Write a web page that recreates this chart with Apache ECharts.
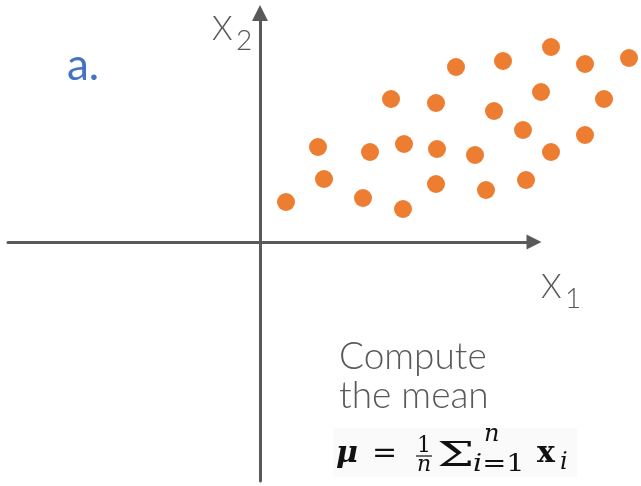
<!DOCTYPE html>
<html>
<head>
<meta charset="utf-8">
<script src="https://cdn.jsdelivr.net/npm/echarts@6/dist/echarts.min.js"></script>
<style>
  html, body { margin: 0; padding: 0; background: #fff; }
  #main { width: 641px; height: 486px; }
</style>
</head>
<body>
<div id="main"></div>
<script>
// point coordinates (X1, X2), origin where the two axes cross
var x1Values = [2.6, 5.8, 6.4, 10.3, 11.0, 13.1, 14.3, 14.4, 17.6, 17.7, 17.6, 19.6, 21.5,
                22.6, 23.4, 24.3, 26.3, 26.6, 28.1, 29.1, 29.1, 32.5, 32.5, 34.4, 36.9];
var x2Values = [4.0, 9.5, 6.3, 4.4, 9.0, 14.3, 3.3, 9.8, 13.9, 9.3, 5.8, 17.5, 8.7,
                5.2, 13.1, 18.1, 11.2, 6.2, 15.0, 19.5, 9.0, 17.8, 10.7, 14.3, 18.4];
var xRange = [-25.2, 27.4];
var yRange = [-23.9, 22.9];

var points = [];
for (var i = 0; i < x1Values.length; i++) {
    points.push([x1Values[i], x2Values[i]]);
}

var axisColor = '#595959';
var textColor = '#595959';
var ink = '#111111';
var lato = 'Lato, "Open Sans", sans-serif';
var serif = '"DejaVu Serif", "Liberation Serif", serif';

function label(x, y, text, size, opts) {
    opts = opts || {};
    return {
        type: 'text',
        x: x,
        y: y,
        scaleX: opts.scaleX || 1,
        style: {
            text: text,
            fontSize: size,
            fontFamily: opts.family || lato,
            fontWeight: opts.weight || 300,
            fontStyle: opts.italic ? 'italic' : 'normal',
            fill: opts.color || textColor,
            align: opts.align || 'left',
            textAlign: opts.align || 'left',
            verticalAlign: 'middle',
            textVerticalAlign: 'middle',
            rich: opts.rich
        }
    };
}

// formula pieces (serif, black)
function math(x, y, text, size, opts) {
    opts = opts || {};
    opts.family = serif;
    opts.color = ink;
    opts.weight = opts.weight || 'normal';
    return label(x, y, text, size, opts);
}

var chart = echarts.init(document.getElementById('main'));
var option = {
    animation: false,
    backgroundColor: '#ffffff',
    grid: { left: 8, right: 107, top: 13, bottom: 5 },
    xAxis: {
        type: 'value',
        min: xRange[0],
        max: xRange[1],
        axisLine: {
            onZero: true,
            symbol: ['none', 'triangle'],
            symbolSize: [15, 15],
            lineStyle: { color: axisColor, width: 3 }
        },
        axisTick: { show: false },
        axisLabel: { show: false },
        splitLine: { show: false }
    },
    yAxis: {
        type: 'value',
        min: yRange[0],
        max: yRange[1],
        axisLine: {
            onZero: true,
            symbol: ['none', 'triangle'],
            symbolSize: [16, 16],
            lineStyle: { color: axisColor, width: 3 }
        },
        axisTick: { show: false },
        axisLabel: { show: false },
        splitLine: { show: false }
    },
    series: [{
        type: 'scatter',
        data: points,
        clip: false,
        symbolSize: 18,
        itemStyle: { color: '#ED7D31', opacity: 1 },
        emphasis: { disabled: true }
    }],
    graphic: [
        // axis names
        label(212, 29, 'X', 33),
        label(236, 41, '2', 28),
        label(541, 287, 'X', 33),
        label(565, 299, '1', 28),
        // panel letter
        label(67, 66, 'a.', 44, { color: '#4472C4', weight: 400 }),
        // caption
        label(339, 357, 'Compute', 37),
        label(339, 396, 'the mean', 37),
        // formula: mu = 1/n sum_{i=1}^n x_i
        { type: 'rect', shape: { x: 333, y: 428, width: 244, height: 49 }, style: { fill: '#fafafa' } },
        math(336, 454, 'μ', 30, { weight: 'bold', italic: true }),
        math(372, 454, '=', 30),
        math(424, 446.5, '1', 22, { align: 'center' }),
        { type: 'line', shape: { x1: 416, y1: 456, x2: 432, y2: 456 }, style: { stroke: ink, lineWidth: 1.2 } },
        math(424, 465.5, 'n', 22, { italic: true, align: 'center' }),
        math(437, 457, 'Σ', 33, { scaleX: 1.6 }),
        math(484, 435, 'n', 24, { italic: true }),
        math(473, 465, '{it|i}{up|=1}', 24, {
            scaleX: 1.2,
            rich: {
                it: { fontFamily: serif, fontStyle: 'italic', fontSize: 24, fill: ink },
                up: { fontFamily: serif, fontSize: 24, fill: ink }
            }
        }),
        math(537, 454, 'x', 30, { weight: 'bold' }),
        math(560, 463, 'i', 24, { italic: true })
    ]
};
chart.setOption(option);
</script>
</body>
</html>
